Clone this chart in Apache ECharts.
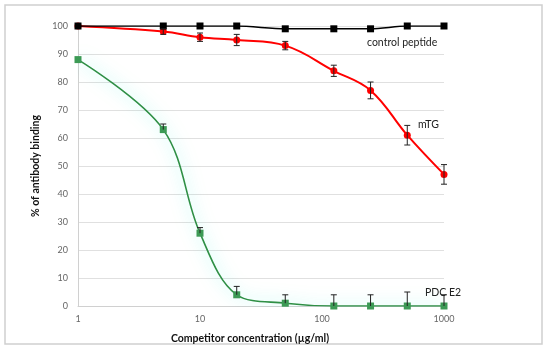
<!DOCTYPE html>
<html>
<head>
<meta charset="utf-8">
<script src="https://cdn.jsdelivr.net/npm/echarts@6/dist/echarts.min.js"></script>
<style>html,body{margin:0;padding:0;background:#fff}#c{width:550px;height:350px}</style>
</head>
<body>
<div id="c"></div>
<script>
const conc = [1, 5, 10, 20, 50, 125, 250, 500, 1000];
const controlVals = [100, 100, 100, 100, 99, 99, 99, 100, 100];
const mtgVals = [100, 98, 96, 95, 93, 84, 77, 61, 47];
const mtgErr = [0, 1, 1.5, 2, 1.5, 2, 3, 3.5, 3.5];
const pdcVals = [88, 63, 26, 4, 1, 0, 0, 0, 0];
const pdcErrUp = [0, 2, 2, 3, 3, 4, 4, 5, 4];
const seriesNames = ['control peptide', 'mTG', 'PDC E2'];
const xAxisName = 'Competitor concentration (µg/ml)';
const yAxisName = '% of antibody binding';

const FONT = 'Lato';
const pts = (vals) => conc.map((x, i) => [x, vals[i]]);
const mtgBars = conc.map((x, i) => [x, mtgVals[i] - mtgErr[i], mtgVals[i] + mtgErr[i], 1]).filter((d, i) => mtgErr[i] > 0);
const pdcBars = conc.map((x, i) => [x, pdcVals[i], pdcVals[i] + pdcErrUp[i], 0]).filter((d, i) => pdcErrUp[i] > 0);

function errItem(params, api) {
  const x = api.value(0), lo = api.value(1), hi = api.value(2), both = api.value(3);
  const t = api.coord([x, hi]), b = api.coord([x, lo]);
  const w = 3;
  const st = { stroke: '#222', lineWidth: 1 };
  const children = [
    { type: 'line', shape: { x1: t[0], y1: t[1], x2: b[0], y2: b[1] }, style: st },
    { type: 'line', shape: { x1: t[0] - w, y1: t[1], x2: t[0] + w, y2: t[1] }, style: st }
  ];
  if (both) children.push({ type: 'line', shape: { x1: b[0] - w, y1: b[1], x2: b[0] + w, y2: b[1] }, style: st });
  return { type: 'group', children };
}

const chart = echarts.init(document.getElementById('c'), null, { renderer: 'canvas' });
chart.setOption({
  animation: false,
  backgroundColor: '#fff',
  grid: { left: 78, right: 106, top: 26, bottom: 44 },
  xAxis: {
    type: 'log', logBase: 10, min: 1, max: 1000,
    name: xAxisName, nameLocation: 'middle', nameGap: 27,
    nameTextStyle: { fontFamily: FONT, fontWeight: 'bold', fontSize: 10.5, color: '#111', padding: [0, 22, 0, 0] },
    axisLine: { show: true, lineStyle: { color: '#d0d0d0', width: 1 } },
    axisTick: { show: false },
    splitLine: { show: false },
    axisLabel: { fontFamily: FONT, fontSize: 9, color: '#666', margin: 9, formatter: (v) => String(Math.round(v)) }
  },
  yAxis: {
    type: 'value', min: 0, max: 100, interval: 10,
    name: yAxisName, nameLocation: 'middle', nameGap: 34, nameRotate: 90,
    nameTextStyle: { fontFamily: FONT, fontWeight: 'bold', fontSize: 10.5, color: '#111' },
    axisLine: { show: true, lineStyle: { color: '#d0d0d0', width: 1 } },
    axisTick: { show: false },
    splitLine: { show: true, lineStyle: { color: '#e0e0e0', width: 1 } },
    axisLabel: { fontFamily: FONT, fontSize: 9, color: '#666', margin: 10 }
  },
  series: [
    {
      name: seriesNames[2], type: 'line', data: pts(pdcVals), smooth: 0.35,
      symbol: 'rect', symbolSize: 7,
      itemStyle: { color: '#3c9a55' },
      lineStyle: { color: '#2f8f45', width: 1.6, shadowColor: 'rgba(0,235,210,0.6)', shadowBlur: 16 },
      z: 2
    },
    {
      name: seriesNames[1], type: 'line', data: pts(mtgVals), smooth: 0.4,
      symbol: 'circle', symbolSize: 7,
      itemStyle: { color: '#ff0000' },
      lineStyle: { color: '#ff0000', width: 2 },
      z: 3
    },
    {
      name: seriesNames[0], type: 'line', data: pts(controlVals), smooth: 0.3,
      symbol: 'rect', symbolSize: 7,
      itemStyle: { color: '#000' },
      lineStyle: { color: '#000', width: 1.5 },
      z: 4
    },
    { type: 'custom', data: mtgBars, renderItem: errItem, encode: { x: 0, y: [1, 2] }, z: 5, silent: true },
    { type: 'custom', data: pdcBars, renderItem: errItem, encode: { x: 0, y: [1, 2] }, z: 5, silent: true }
  ],
  graphic: [
    { type: 'rect', shape: { x: 5, y: 5, width: 537, height: 339 }, style: { fill: 'none', stroke: '#d0d0d0', lineWidth: 1.5 }, z: -1 },
    { type: 'text', x: 367, y: 43, style: { text: seriesNames[0], font: '10.5px ' + FONT, fill: '#222', textVerticalAlign: 'middle' } },
    { type: 'text', x: 418, y: 125, style: { text: seriesNames[1], font: '10.5px ' + FONT, fill: '#222', textVerticalAlign: 'middle' } },
    { type: 'text', x: 425, y: 293, style: { text: seriesNames[2], font: '10.5px ' + FONT, fill: '#222', textVerticalAlign: 'middle' } }
  ]
});
</script>
</body>
</html>
